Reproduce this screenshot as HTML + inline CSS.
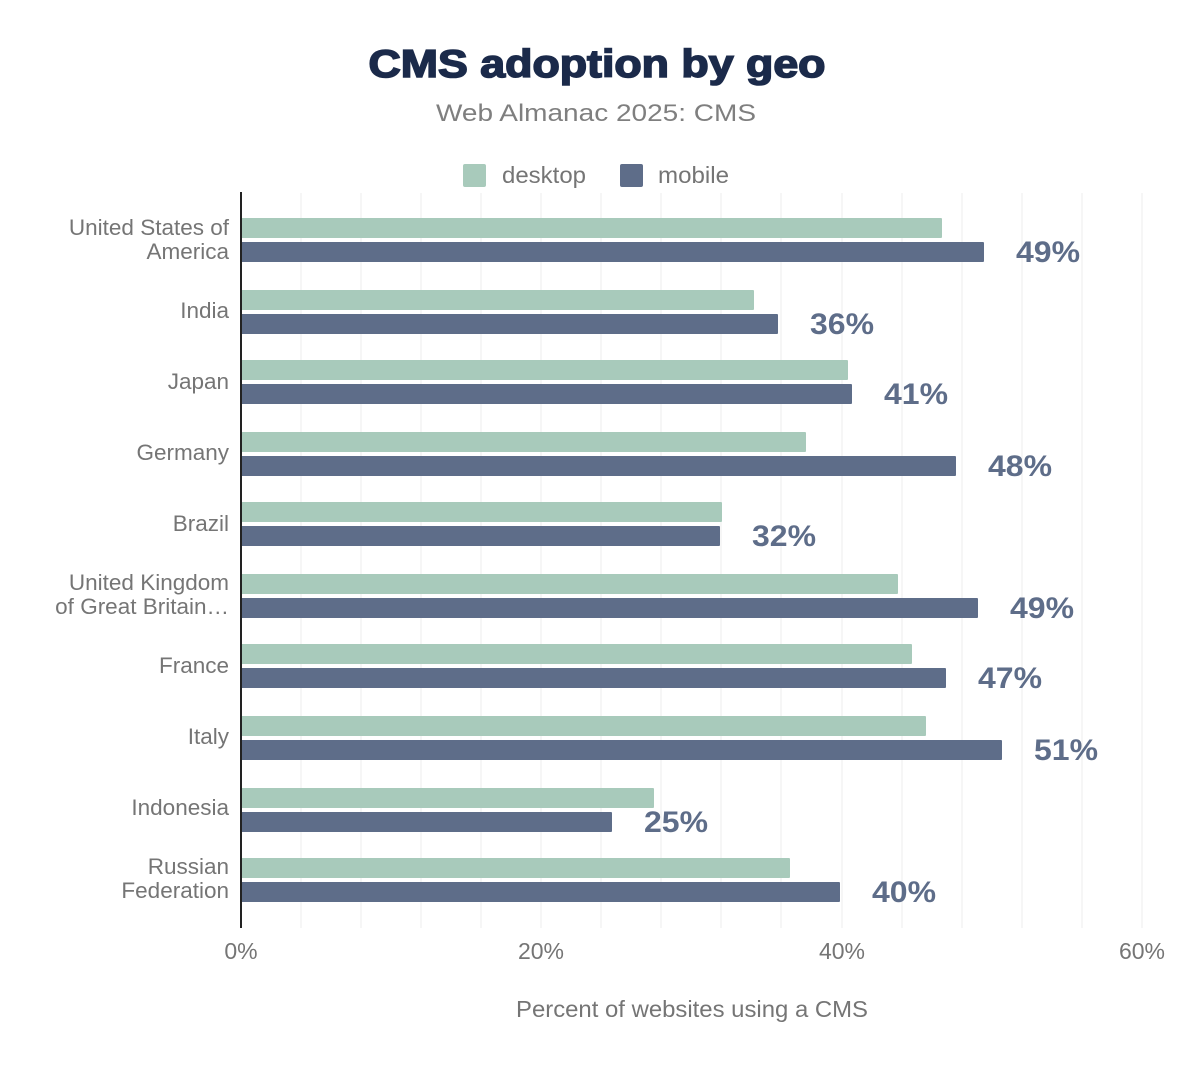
<!DOCTYPE html>
<html><head><meta charset="utf-8"><style>
html,body{margin:0;padding:0;background:#fff;}
svg{display:block;font-family:"Liberation Sans",Arial,sans-serif;}
</style></head><body>
<svg width="1200" height="1076" viewBox="0 0 1200 1076" xmlns="http://www.w3.org/2000/svg">
<rect width="1200" height="1076" fill="#fff"/>
<text x="597" y="77" text-anchor="middle" font-size="39" font-weight="bold" fill="#1b2a4a" stroke="#1b2a4a" stroke-width="1.6" textLength="457" lengthAdjust="spacingAndGlyphs">CMS adoption by geo</text>
<text x="596" y="121" text-anchor="middle" font-size="24" fill="#7f7f7f" textLength="320" lengthAdjust="spacingAndGlyphs">Web Almanac 2025: CMS</text>
<rect x="463" y="164" width="23" height="23" rx="2" fill="#a8cabb"/>
<text x="502" y="183" font-size="23" fill="#757575" textLength="84" lengthAdjust="spacingAndGlyphs">desktop</text>
<rect x="620" y="164" width="23" height="23" rx="2" fill="#5e6d89"/>
<text x="658" y="183" font-size="23" fill="#757575" textLength="71" lengthAdjust="spacingAndGlyphs">mobile</text>
<g stroke="#eeeeee" stroke-width="1">
<line x1="301" y1="193" x2="301" y2="928"/><line x1="361" y1="193" x2="361" y2="928"/>
<line x1="421" y1="193" x2="421" y2="928"/><line x1="481" y1="193" x2="481" y2="928"/>
<line x1="541" y1="193" x2="541" y2="928"/><line x1="601" y1="193" x2="601" y2="928"/>
<line x1="661" y1="193" x2="661" y2="928"/><line x1="721" y1="193" x2="721" y2="928"/>
<line x1="781" y1="193" x2="781" y2="928"/><line x1="842" y1="193" x2="842" y2="928"/>
<line x1="902" y1="193" x2="902" y2="928"/><line x1="962" y1="193" x2="962" y2="928"/>
<line x1="1022" y1="193" x2="1022" y2="928"/><line x1="1082" y1="193" x2="1082" y2="928"/>
<line x1="1142" y1="193" x2="1142" y2="928"/>
</g>
<g fill="#a8cabb">
<rect x="241" y="218" width="701" height="20" rx="1"/>
<rect x="241" y="290" width="513" height="20" rx="1"/>
<rect x="241" y="360" width="607" height="20" rx="1"/>
<rect x="241" y="432" width="565" height="20" rx="1"/>
<rect x="241" y="502" width="481" height="20" rx="1"/>
<rect x="241" y="574" width="657" height="20" rx="1"/>
<rect x="241" y="644" width="671" height="20" rx="1"/>
<rect x="241" y="716" width="685" height="20" rx="1"/>
<rect x="241" y="788" width="413" height="20" rx="1"/>
<rect x="241" y="858" width="549" height="20" rx="1"/>
</g>
<g fill="#5e6d89">
<rect x="241" y="242" width="743" height="20" rx="1"/>
<rect x="241" y="314" width="537" height="20" rx="1"/>
<rect x="241" y="384" width="611" height="20" rx="1"/>
<rect x="241" y="456" width="715" height="20" rx="1"/>
<rect x="241" y="526" width="479" height="20" rx="1"/>
<rect x="241" y="598" width="737" height="20" rx="1"/>
<rect x="241" y="668" width="705" height="20" rx="1"/>
<rect x="241" y="740" width="761" height="20" rx="1"/>
<rect x="241" y="812" width="371" height="20" rx="1"/>
<rect x="241" y="882" width="599" height="20" rx="1"/>
</g>
<g font-size="30" font-weight="bold" fill="#5e6d89">
<text x="1016" y="262" textLength="64" lengthAdjust="spacingAndGlyphs">49%</text>
<text x="810" y="334" textLength="64" lengthAdjust="spacingAndGlyphs">36%</text>
<text x="884" y="404" textLength="64" lengthAdjust="spacingAndGlyphs">41%</text>
<text x="988" y="476" textLength="64" lengthAdjust="spacingAndGlyphs">48%</text>
<text x="752" y="546" textLength="64" lengthAdjust="spacingAndGlyphs">32%</text>
<text x="1010" y="618" textLength="64" lengthAdjust="spacingAndGlyphs">49%</text>
<text x="978" y="688" textLength="64" lengthAdjust="spacingAndGlyphs">47%</text>
<text x="1034" y="760" textLength="64" lengthAdjust="spacingAndGlyphs">51%</text>
<text x="644" y="832" textLength="64" lengthAdjust="spacingAndGlyphs">25%</text>
<text x="872" y="902" textLength="64" lengthAdjust="spacingAndGlyphs">40%</text>
</g>
<line x1="241" y1="192" x2="241" y2="928" stroke="#222" stroke-width="2"/>
<g font-size="22.5" fill="#757575" text-anchor="end">
<text x="229" y="235">United States of</text>
<text x="229" y="259">America</text>
<text x="229" y="318">India</text>
<text x="229" y="389">Japan</text>
<text x="229" y="460">Germany</text>
<text x="229" y="531">Brazil</text>
<text x="229" y="590">United Kingdom</text>
<text x="229" y="614">of Great Britain…</text>
<text x="229" y="673">France</text>
<text x="229" y="744">Italy</text>
<text x="229" y="815">Indonesia</text>
<text x="229" y="874">Russian</text>
<text x="229" y="898">Federation</text>
</g>
<g font-size="23" fill="#757575" text-anchor="middle">
<text x="241" y="959">0%</text>
<text x="541" y="959">20%</text>
<text x="842" y="959">40%</text>
<text x="1142" y="959">60%</text>
<text x="692" y="1017" textLength="352" lengthAdjust="spacingAndGlyphs">Percent of websites using a CMS</text>
</g>
</svg>
</body></html>
